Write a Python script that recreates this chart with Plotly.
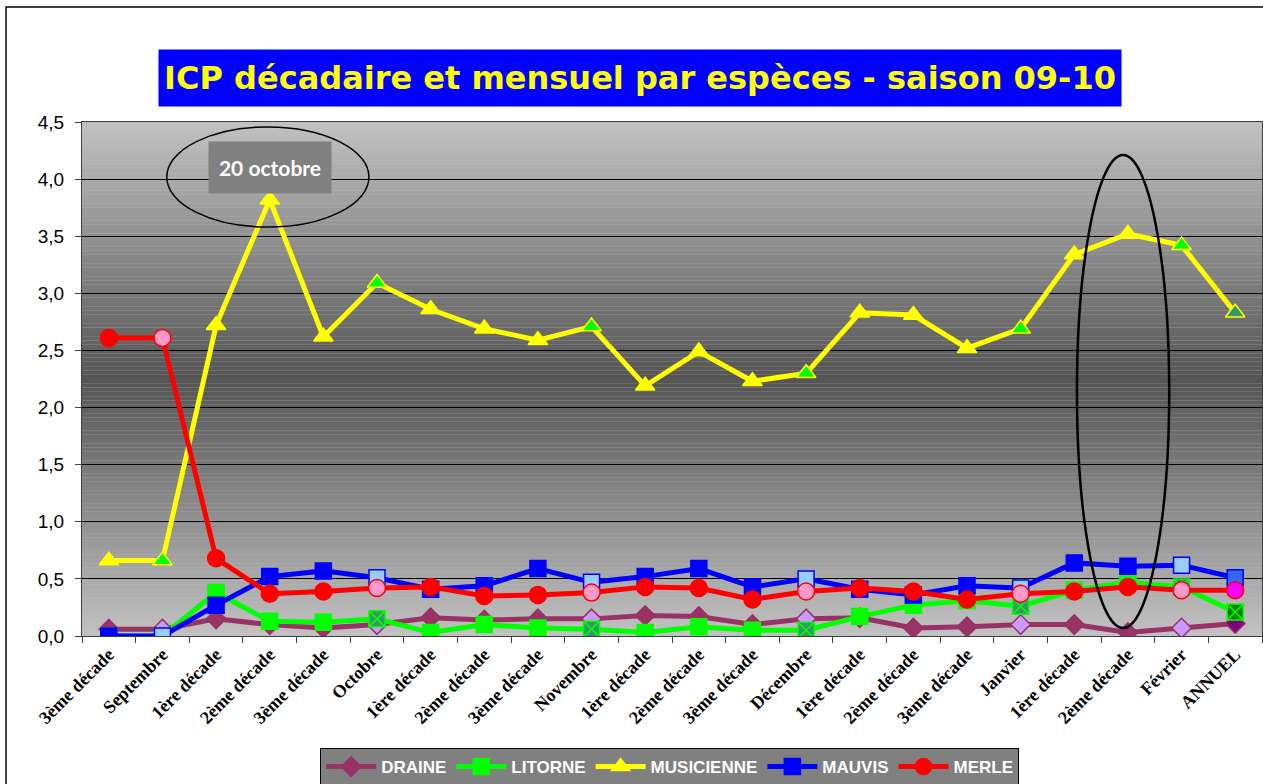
import plotly.graph_objects as go

categories = ["3ème décade", "Septembre", "1ère décade", "2ème décade", "3ème décade",
              "Octobre", "1ère décade", "2ème décade", "3ème décade", "Novembre",
              "1ère décade", "2ème décade", "3ème décade", "Décembre", "1ère décade",
              "2ème décade", "3ème décade", "Janvier", "1ère décade", "2ème décade",
              "Février", "ANNUEL"]
kinds = ["d", "m", "d", "d", "d", "m", "d", "d", "d", "m", "d", "d", "d", "m",
         "d", "d", "d", "m", "d", "d", "m", "a"]

draine = [0.06, 0.06, 0.15, 0.10, 0.07, 0.10, 0.16, 0.14, 0.15, 0.15, 0.18,
          0.17, 0.10, 0.15, 0.16, 0.07, 0.08, 0.10, 0.10, 0.03, 0.07, 0.11]
litorne = [0.00, 0.00, 0.38, 0.13, 0.12, 0.15, 0.03, 0.10, 0.07, 0.06, 0.03,
           0.08, 0.05, 0.05, 0.17, 0.27, 0.31, 0.26, 0.40, 0.47, 0.43, 0.21]
musicienne = [0.66, 0.66, 2.72, 3.82, 2.62, 3.09, 2.86, 2.69, 2.59, 2.71, 2.19,
              2.49, 2.23, 2.30, 2.83, 2.81, 2.52, 2.69, 3.34, 3.52, 3.42, 2.83]
mauvis = [0.00, 0.00, 0.27, 0.52, 0.57, 0.51, 0.41, 0.44, 0.59, 0.47, 0.52,
          0.59, 0.43, 0.50, 0.41, 0.36, 0.44, 0.42, 0.64, 0.61, 0.62, 0.51]
merle = [2.61, 2.61, 0.68, 0.37, 0.39, 0.42, 0.43, 0.35, 0.36, 0.38, 0.43,
         0.42, 0.32, 0.39, 0.42, 0.39, 0.32, 0.37, 0.39, 0.43, 0.40, 0.40]

y_ticks = [0, 0.5, 1.0, 1.5, 2.0, 2.5, 3.0, 3.5, 4.0, 4.5]

# name, values, line colour, symbols {d,m,a}, fills {d,m,a}, outline {d,m,a}, size
series = [
    ("DRAINE", draine, "#993366",
     {"d": "diamond", "m": "diamond", "a": "diamond"},
     {"d": "#993366", "m": "#CC99FF", "a": "#800080"},
     {"d": "#993366", "m": "#993366", "a": "#993366"}, 15),
    ("LITORNE", litorne, "#00FF00",
     {"d": "square", "m": "square-x", "a": "square-x"},
     {"d": "#00FF00", "m": "#339966", "a": "#008000"},
     {"d": "#00FF00", "m": "#00FF00", "a": "#00FF00"}, 16),
    ("MUSICIENNE", musicienne, "#FFFF00",
     {"d": "triangle-up", "m": "triangle-up", "a": "triangle-up"},
     {"d": "#FFFF00", "m": "#00FF00", "a": "#339966"},
     {"d": "#FFFF00", "m": "#FFFF00", "a": "#FFFF00"}, 17),
    ("MAUVIS", mauvis, "#0000FF",
     {"d": "square", "m": "square", "a": "square"},
     {"d": "#0000FF", "m": "#99CCFF", "a": "#3366FF"},
     {"d": "#0000FF", "m": "#0000FF", "a": "#0000FF"}, 16),
    ("MERLE", merle, "#FF0000",
     {"d": "circle", "m": "circle", "a": "circle"},
     {"d": "#FF0000", "m": "#FF99CC", "a": "#FF00FF"},
     {"d": "#FF0000", "m": "#FF0000", "a": "#FF0000"}, 17),
]

xs = list(range(len(categories)))
fig = go.Figure()
for name, vals, col, syms, fills, outl, sz in series:
    fig.add_trace(go.Scatter(
        x=xs, y=vals, name="<b>" + name + "</b>", mode="lines+markers",
        line=dict(color=col, width=5),
        marker=dict(symbol=[syms[k] for k in kinds],
                    color=[fills[k] for k in kinds],
                    size=sz,
                    line=dict(color=[outl[k] for k in kinds], width=1.5)),
    ))

shapes = []
N = 120
light, dark = 194, 84
for i in range(N):
    t = (i + 0.5) / N
    d = abs(t - 0.5) * 2
    v = int(round(dark + (light - dark) * d))
    c = f"rgb({v},{v},{v})"
    shapes.append(dict(type="rect", xref="x domain", yref="y domain",
                       x0=0, x1=1, y0=i / N, y1=(i + 1) / N,
                       fillcolor=c, line=dict(width=0), layer="below"))
# ellipses
shapes.append(dict(type="circle", xref="x", yref="y", x0=1.08, x1=4.85,
                   y0=3.58, y1=4.457, line=dict(color="black", width=1.5)))
shapes.append(dict(type="circle", xref="x", yref="y", x0=18.05, x1=19.77,
                   y0=0.07, y1=4.21, line=dict(color="black", width=2.5)))
# outer frame
shapes.append(dict(type="rect", xref="paper", yref="paper", x0=-0.0644, x1=1.05,
                   y0=-0.5, y1=1.2237, line=dict(color="black", width=1.5),
                   layer="below"))

annotations = [
    dict(text="<b>ICP décadaire et mensuel par espèces - saison 09-10</b>",
         xref="paper", yref="paper", x=0.473, y=1.142, showarrow=False,
         width=960, height=54, bgcolor="#0000FF",
         font=dict(family="DejaVu Sans", size=32, color="#FFFF00")),
    dict(text="<b>20 octobre</b>", xref="x", yref="y", x=3.0, y=4.1,
         showarrow=False, width=120, height=49, bgcolor="#808080",
         font=dict(family="Lato, Open Sans", size=21, color="white")),
]

fig.update_layout(
    width=1263, height=784,
    margin=dict(l=82, r=1, t=122, b=148, autoexpand=False),
    paper_bgcolor="white", plot_bgcolor="#C0C0C0",
    separators=", ",
    shapes=shapes, annotations=annotations,
    showlegend=True,
    legend=dict(orientation="h", x=0.498, xanchor="center", y=-0.218, yanchor="top",
                bgcolor="#808080", bordercolor="black", borderwidth=1,
                font=dict(family="Liberation Sans, Arial", size=17, color="white"),
                itemwidth=50, tracegroupgap=0),
    xaxis=dict(range=[-0.5, 21.5], tickmode="array", tickvals=xs, ticktext=categories,
               tickangle=-45, ticks="", showgrid=False, zeroline=False, automargin=False,
               showline=True, linecolor="#404040", linewidth=1, mirror=True,
               tickfont=dict(family="Liberation Serif, Times New Roman", size=18,
                             color="black", weight="bold"),
               minor=dict(ticks="outside", tick0=-0.5, dtick=1, ticklen=6,
                          tickcolor="#404040", showgrid=False)),
    yaxis=dict(range=[0, 4.5], tickmode="array", tickvals=y_ticks, tickformat=".1f",
               ticks="outside", ticklen=6, tickcolor="#404040", ticklabelstandoff=7,
               showgrid=True, gridcolor="black", gridwidth=1, zeroline=False,
               automargin=False,
               showline=True, linecolor="#404040", linewidth=1, mirror=True,
               tickfont=dict(family="Liberation Sans, Arial", size=19, color="black")),
)

fig.write_html("out.html", config={"displayModeBar": False},
               post_script="document.body.style.margin='0';document.body.style.overflow='hidden';")
